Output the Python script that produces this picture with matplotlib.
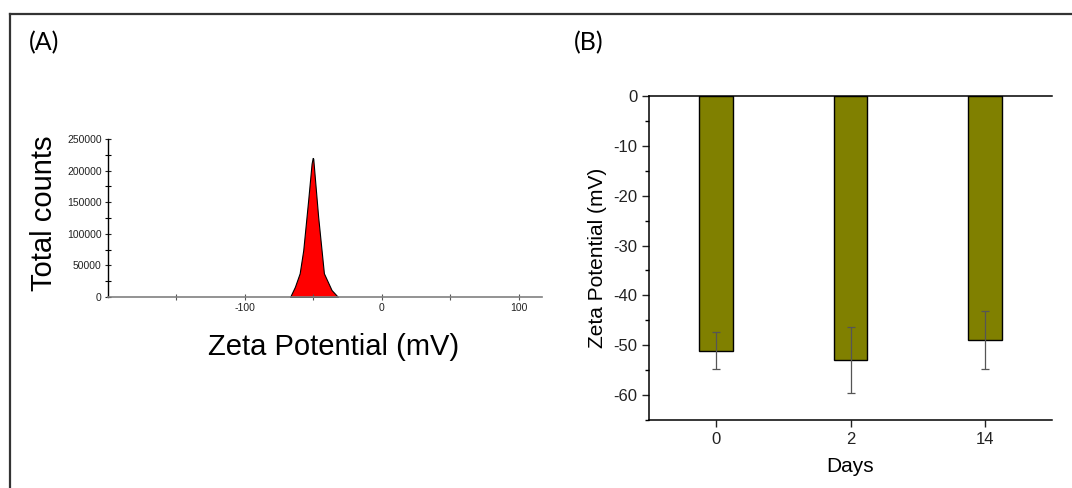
import numpy as np
import matplotlib
matplotlib.use("Agg")
import matplotlib.pyplot as plt
from matplotlib.lines import Line2D
from matplotlib.ticker import MultipleLocator, FixedLocator

plt.rcParams["font.family"] = ["Liberation Sans", "DejaVu Sans"]
plt.rcParams["axes.unicode_minus"] = False

# (A) zeta potential distribution
zeta_mv = [-67, -63.5, -60, -57.4, -53.8, -51.3, -50.5, -50.1, -46.5, -42.3, -36.7, -32]
counts = [0, 16000, 37500, 74000, 153000, 211000, 220000, 219000, 127000, 37500, 11000, 0]

# (B) zeta potential over storage time
days = ["0", "2", "14"]
zeta_mean = [-51.1, -52.9, -48.9]
zeta_err = [3.7, 6.6, 5.8]

fig = plt.figure(figsize=(10.72, 4.88), dpi=100)

# outer frame (top and left edges are visible)
fig.add_artist(Line2D([10 / 1072, 1.0], [1 - 14 / 488, 1 - 14 / 488],
                      transform=fig.transFigure, color="#333333", lw=1.6))
fig.add_artist(Line2D([10 / 1072, 10 / 1072], [0.0, 1 - 14 / 488],
                      transform=fig.transFigure, color="#333333", lw=1.6))

fig.text(29 / 1072, 1 - 43 / 488, "(A)", fontsize=18, family="Lato", va="center")
fig.text(574 / 1072, 1 - 43 / 488, "(B)", fontsize=18, family="Lato", va="center")

# --- panel A
axA = fig.add_axes([108 / 1072, (488 - 297) / 488, 434 / 1072, 158 / 488])
axA.fill_between(zeta_mv, counts, color="red", edgecolor="black", lw=0.8)
axA.set_xlim(-200, 117)
axA.set_ylim(0, 250000)
axA.xaxis.set_major_locator(FixedLocator([-100, 0, 100]))
axA.xaxis.set_minor_locator(FixedLocator([-150, -50, 50]))
axA.yaxis.set_major_locator(MultipleLocator(50000))
axA.yaxis.set_minor_locator(MultipleLocator(25000))
for s in ["top", "right"]:
    axA.spines[s].set_visible(False)
axA.spines["bottom"].set_color("#808080")
axA.spines["bottom"].set_linewidth(1.2)
axA.spines["left"].set_linewidth(1.0)
axA.tick_params(axis="both", which="major", labelsize=7.5, direction="inout",
                length=5, width=0.8, colors="#222222", pad=2)
axA.tick_params(axis="both", which="minor", direction="inout", length=4, width=0.8)
axA.tick_params(axis="x", which="both", color="#555555")
axA.set_ylabel("Total counts", fontsize=21)
axA.yaxis.set_label_coords(-0.115, 0.53)
axA.set_xlabel("Zeta Potential (mV)", fontsize=21)
axA.xaxis.set_label_coords(0.52, -0.225)

# --- panel B
axB = fig.add_axes([649 / 1072, (488 - 420) / 488, 403 / 1072, 324 / 488])
x = np.arange(len(days))
axB.bar(x, zeta_mean, width=0.25, color="#808000", edgecolor="black", lw=1.0)
axB.errorbar(x, zeta_mean, yerr=zeta_err, fmt="none", ecolor="#555555",
             elinewidth=0.9, capsize=3, capthick=0.9)
axB.set_xlim(-0.5, 2.5)
axB.set_ylim(-65, 0)
axB.set_xticks(x)
axB.set_xticklabels(days)
axB.yaxis.set_major_locator(MultipleLocator(10))
axB.yaxis.set_minor_locator(MultipleLocator(5))
axB.spines["right"].set_visible(False)
for s in ["top", "bottom", "left"]:
    axB.spines[s].set_linewidth(1.1)
axB.tick_params(axis="both", which="major", labelsize=12, direction="out",
                length=5, width=1.0, colors="#222222")
axB.tick_params(axis="y", which="minor", direction="out", length=3, width=1.0)
axB.tick_params(axis="x", which="minor", bottom=False)
axB.set_ylabel("Zeta Potential (mV)", fontsize=15)
axB.yaxis.set_label_coords(-0.104, 0.5)
axB.set_xlabel("Days", fontsize=15)
axB.xaxis.set_label_coords(0.5, -0.115)

fig.savefig("out.png", dpi=100)
